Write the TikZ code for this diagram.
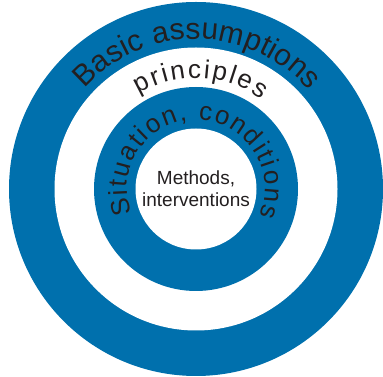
\documentclass[tikz,border=0pt]{standalone}
\usepackage{fontspec}
\setmainfont{Liberation Sans}
\usetikzlibrary{decorations.text}
\definecolor{ringblue}{RGB}{0,112,173}
\definecolor{textgray}{RGB}{35,31,32}

\begin{document}
\begin{tikzpicture}[x=1pt,y=1pt,
  ringtext/.style={decorate,decoration={text along path,text align={fit to path},text color=textgray}}]
\useasboundingbox (0,0) rectangle (383,377);
\coordinate (c) at (196,188);
% rings
\fill[ringblue] (c) circle (187pt);
\fill[white] (c) circle (141.5pt);
\fill[ringblue] (c) circle (102pt);
\fill[white] (c) circle (60.5pt);
% curved labels
\path[ringtext,decoration={text={|\fontsize{30}{30}\selectfont|Basic assumptions}}]
  ([shift={(138:150pt)}]c) arc[start angle=138,end angle=41,radius=150pt];
\path[ringtext,decoration={text={|\fontsize{26}{26}\selectfont|principles}}]
  ([shift={(121:111pt)}]c) arc[start angle=121,end angle=54,radius=111pt];
\path[ringtext,decoration={text={|\fontsize{26}{26}\selectfont|Situation, conditions}}]
  ([shift={(201:69pt)}]c) arc[start angle=201,end angle=-23,radius=69pt];
\node[align=center,text=textgray,font=\fontsize{19}{22}\selectfont] (methods) at (c) {Methods,\\interventions};
\end{tikzpicture}
\end{document}
